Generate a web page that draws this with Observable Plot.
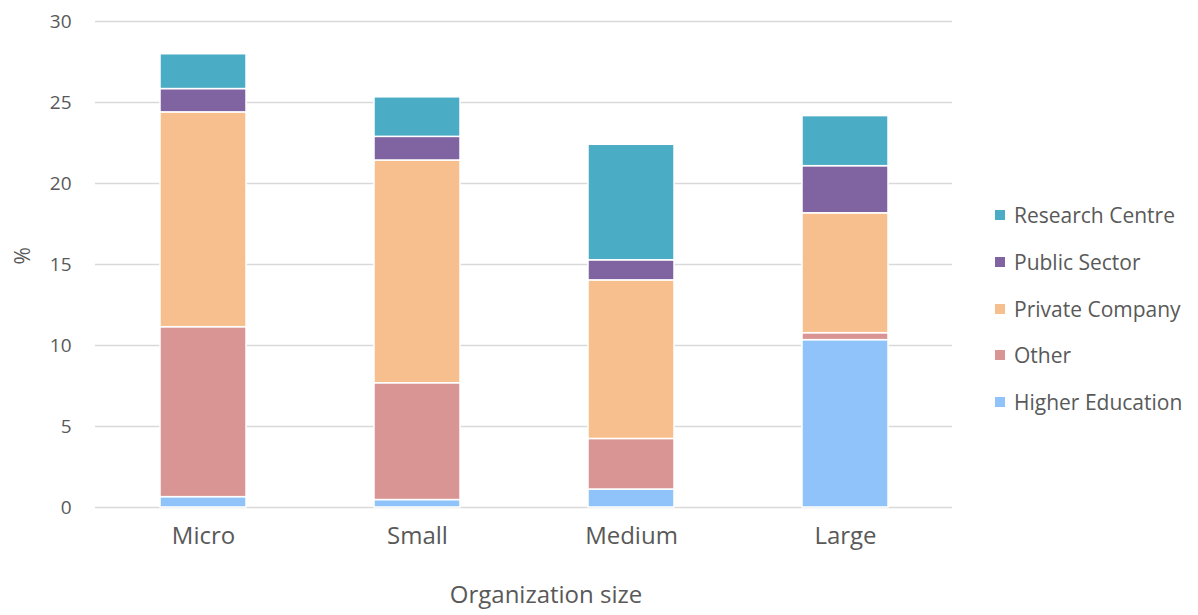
<!DOCTYPE html>
<html>
<head>
<meta charset="utf-8">
<script src="https://cdn.jsdelivr.net/npm/d3@7"></script>
<script src="https://cdn.jsdelivr.net/npm/@observablehq/plot@0.6"></script>
<style>
  html, body { margin: 0; padding: 0; background: #ffffff; }
  #wrap { position: relative; width: 1198px; height: 615px; font-family: "Open Sans", Lato, sans-serif; }
  #legend { position: absolute; left: 995px; top: 192px; color: #595959; font-size: 21px; }
  .item { display: flex; align-items: center; height: 46.7px; white-space: nowrap; }
  .sw { width: 10px; height: 10px; margin-right: 9px; }
</style>
</head>
<body>
<div id="wrap"><div id="legend"></div></div>
<script>
const categories = ["Micro", "Small", "Medium", "Large"];
const seriesNames = ["Higher Education", "Other", "Private Company", "Public Sector", "Research Centre"];
const seriesColors = ["#8fc3f9", "#d99594", "#f8bf8e", "#8064a2", "#4aacc5"];
const higherEducation = [0.64, 0.46, 1.11, 10.33];
const other = [10.49, 7.21, 3.12, 0.43];
const privateCompany = [13.26, 13.75, 9.79, 7.40];
const publicSector = [1.44, 1.46, 1.24, 2.91];
const researchCentre = [2.15, 2.44, 7.13, 3.09];
const yTicks = [0, 5, 10, 15, 20, 25, 30];

const seriesValues = [higherEducation, other, privateCompany, publicSector, researchCentre];
const rows = [];
seriesNames.forEach((s, i) => {
  categories.forEach((c, j) => rows.push({ size: c, series: s, value: seriesValues[i][j] }));
});

const textColor = "#595959";
const chart = Plot.plot({
  width: 1198,
  height: 615,
  marginLeft: 95,
  marginRight: 246,
  marginTop: 21,
  marginBottom: 108,
  style: { fontFamily: "'Open Sans', Lato, sans-serif", color: textColor, background: "#ffffff" },
  x: { domain: categories, paddingInner: 0.6, paddingOuter: 0.3, label: null },
  y: { domain: [0, 30], label: null },
  color: { domain: seriesNames, range: seriesColors },
  marks: [
    Plot.gridY(yTicks, { stroke: "#d9d9d9", strokeOpacity: 1, strokeWidth: 1.5 }),
    Plot.barY(rows, Plot.stackY({ x: "size", y: "value", fill: "series", z: "series", order: seriesNames, stroke: "#ffffff", strokeWidth: 1.5 })),
    Plot.axisY(yTicks, { tickSize: 0, tickPadding: 24, fontSize: 19, fill: textColor, label: null }),
    Plot.axisX({ tickSize: 0, tickPadding: 19, fontSize: 24, fill: textColor, label: null }),
    Plot.text(["%"], { frameAnchor: "left", dx: -72, rotate: -90, fontSize: 21, fill: textColor, lineAnchor: "middle" }),
    Plot.text(["Organization size"], { frameAnchor: "bottom", dx: 22, dy: 88, fontSize: 24, fill: textColor, lineAnchor: "middle" })
  ]
});
document.getElementById("wrap").prepend(chart);

const legend = document.getElementById("legend");
for (let i = seriesNames.length - 1; i >= 0; i--) {
  const item = document.createElement("div");
  item.className = "item";
  const sw = document.createElement("div");
  sw.className = "sw";
  sw.style.background = seriesColors[i];
  const label = document.createElement("span");
  label.textContent = seriesNames[i];
  item.append(sw, label);
  legend.append(item);
}
</script>
</body>
</html>
